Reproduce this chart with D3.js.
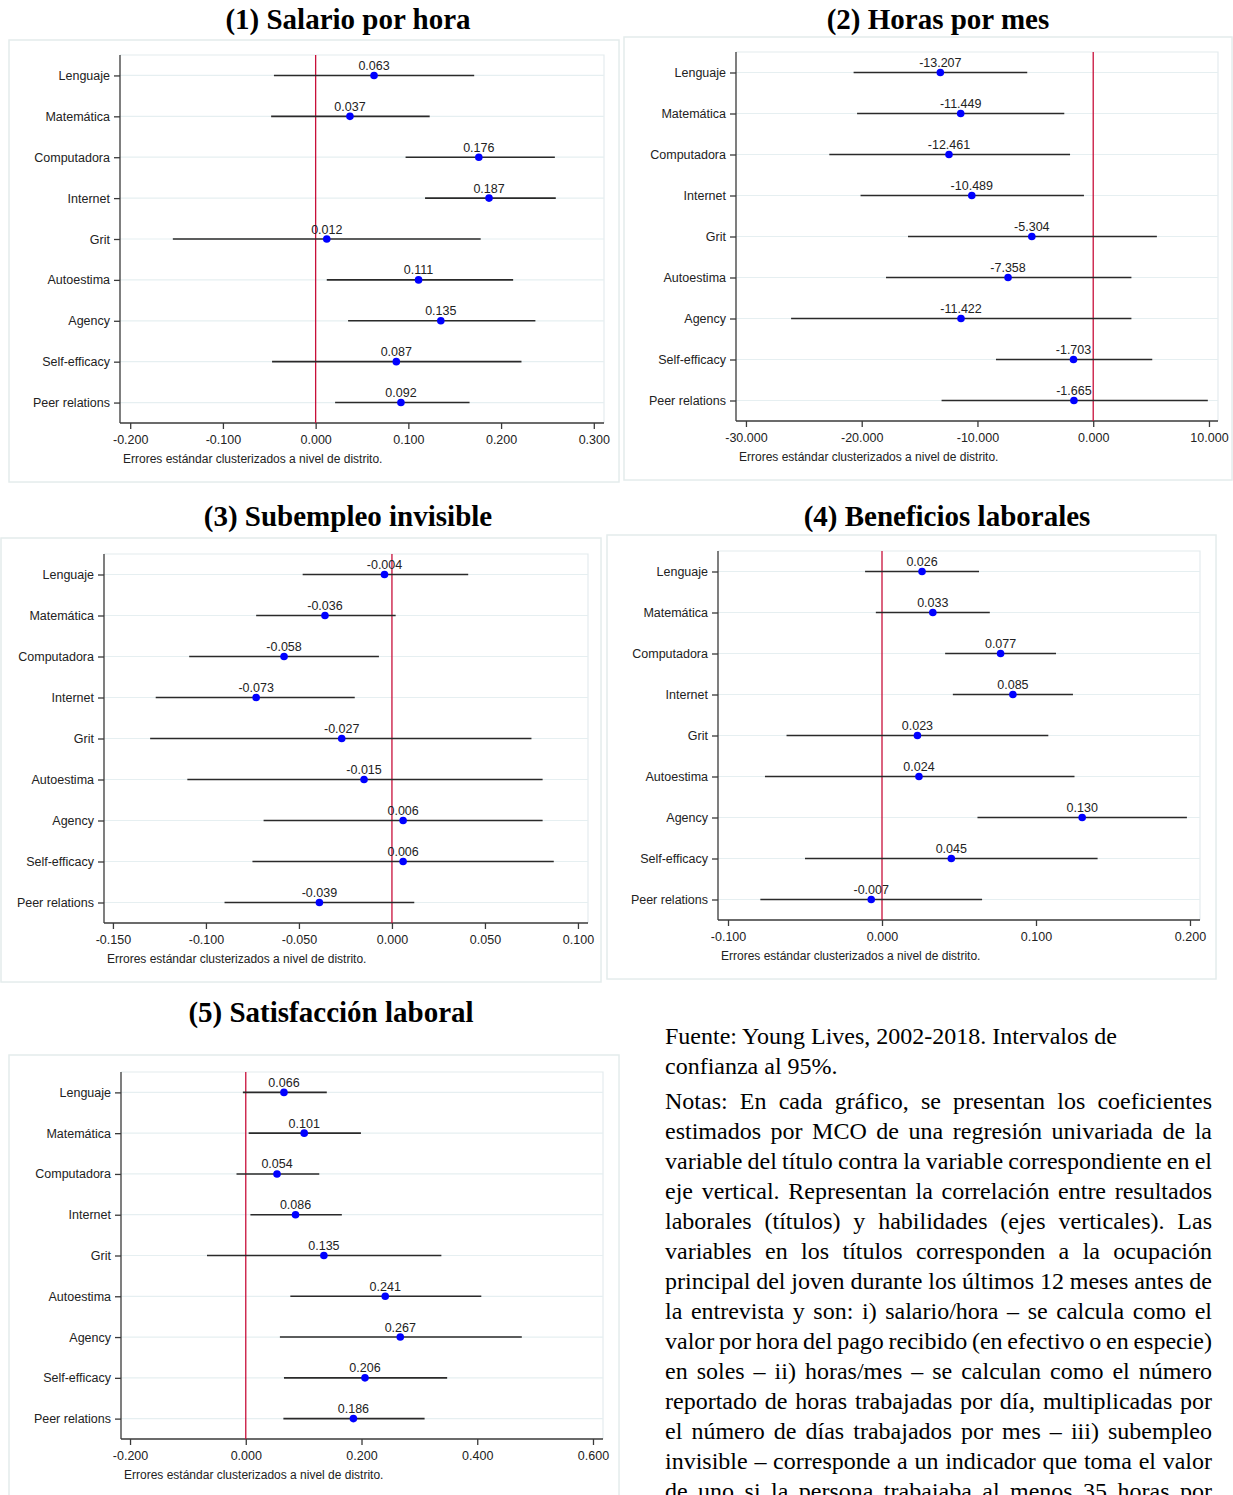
<!DOCTYPE html>
<html>
<head>
<meta charset="utf-8">
<script src="https://cdn.jsdelivr.net/npm/d3@7"></script>
<style>
    body { margin: 0; background: #fff; }
    #wrap { position: relative; width: 1233px; height: 1495px; overflow: hidden; }
    #wrap svg { position: absolute; left: 0; top: 0; }
    .nota {
        position: absolute;
        left: 665px;
        width: 547px;
        height: 30px;
        font-family: "Liberation Serif", "Times New Roman", serif;
        font-size: 24px;
        line-height: 30px;
        color: #000;
        white-space: nowrap;
    }
    .nota.just { text-align: justify; text-align-last: justify; }
    #measure {
        position: absolute; visibility: hidden; white-space: nowrap;
        font-family: "Liberation Serif", "Times New Roman", serif; font-size: 24px;
    }
</style>
</head>
<body>
<div id="wrap"></div>
<span id="measure"></span>
<script>
//*************************1. Data

const skills = ["Lenguaje", "Matemática", "Computadora", "Internet", "Grit", "Autoestima", "Agency", "Self-efficacy", "Peer relations"]

const panelTitles = ["(1) Salario por hora", "(2) Horas por mes", "(3) Subempleo invisible", "(4) Beneficios laborales", "(5) Satisfacción laboral"]

// (1) salario por hora
const coefSalario = [0.063, 0.037, 0.176, 0.187, 0.012, 0.111, 0.135, 0.087, 0.092]
const lowSalario = [-0.045, -0.048, 0.097, 0.118, -0.154, 0.012, 0.035, -0.047, 0.021]
const highSalario = [0.171, 0.123, 0.258, 0.259, 0.178, 0.213, 0.237, 0.222, 0.166]
const ticksSalario = [-0.2, -0.1, 0, 0.1, 0.2, 0.3]

// (2) horas por mes
const coefHoras = [-13.207, -11.449, -12.461, -10.489, -5.304, -7.358, -11.422, -1.703, -1.665]
const lowHoras = [-20.7, -20.4, -22.8, -20.1, -16.0, -17.9, -26.1, -8.4, -13.1]
const highHoras = [-5.7, -2.5, -2.0, -0.8, 5.5, 3.3, 3.3, 5.1, 9.9]
const ticksHoras = [-30, -20, -10, 0, 10]

// (3) subempleo invisible
const coefSubempleo = [-0.004, -0.036, -0.058, -0.073, -0.027, -0.015, 0.006, 0.006, -0.039]
const lowSubempleo = [-0.048, -0.073, -0.109, -0.127, -0.130, -0.110, -0.069, -0.075, -0.090]
const highSubempleo = [0.041, 0.002, -0.007, -0.020, 0.075, 0.081, 0.081, 0.087, 0.012]
const ticksSubempleo = [-0.15, -0.1, -0.05, 0, 0.05, 0.1]

// (4) beneficios laborales
const coefBeneficios = [0.026, 0.033, 0.077, 0.085, 0.023, 0.024, 0.130, 0.045, -0.007]
const lowBeneficios = [-0.011, -0.004, 0.041, 0.046, -0.062, -0.076, 0.062, -0.050, -0.079]
const highBeneficios = [0.063, 0.070, 0.113, 0.124, 0.108, 0.125, 0.198, 0.140, 0.065]
const ticksBeneficios = [-0.1, 0, 0.1, 0.2]

// (5) satisfaccion laboral
const coefSatisfaccion = [0.066, 0.101, 0.054, 0.086, 0.135, 0.241, 0.267, 0.206, 0.186]
const lowSatisfaccion = [-0.005, 0.005, -0.016, 0.008, -0.067, 0.077, 0.059, 0.066, 0.065]
const highSatisfaccion = [0.140, 0.199, 0.127, 0.166, 0.338, 0.407, 0.477, 0.348, 0.309]
const ticksSatisfaccion = [-0.2, 0, 0.2, 0.4, 0.6]

const noteAxis = "Errores estándar clusterizados a nivel de distrito."

const fuenteLines = [
    "Fuente: Young Lives, 2002-2018. Intervalos de",
    "confianza al 95%."
]
const notasLines = [
    "Notas: En cada gráfico, se presentan los coeficientes",
    "estimados por MCO de una regresión univariada de la",
    "variable del título contra la variable correspondiente en el",
    "eje vertical. Representan la correlación entre resultados",
    "laborales (títulos) y habilidades (ejes verticales). Las",
    "variables en los títulos corresponden a la ocupación",
    "principal del joven durante los últimos 12 meses antes de",
    "la entrevista y son: i) salario/hora – se calcula como el",
    "valor por hora del pago recibido (en efectivo o en especie)",
    "en soles – ii) horas/mes – se calculan como el número",
    "reportado de horas trabajadas por día, multiplicadas por",
    "el número de días trabajados por mes – iii) subempleo",
    "invisible – corresponde a un indicador que toma el valor",
    "de uno si la persona trabajaba al menos 35 horas por"
]

//*************************2. Layout of each panel

const panels = [
    { coef: coefSalario, low: lowSalario, high: highSalario, ticks: ticksSalario,
      title: [348, 29], box: [9, 40, 610, 442], plot: [120, 604, 55, 423], domain: [-0.211, 0.311] },
    { coef: coefHoras, low: lowHoras, high: highHoras, ticks: ticksHoras,
      title: [938, 29], box: [624, 37, 608, 443], plot: [736, 1218, 52, 421], domain: [-30.86, 10.78] },
    { coef: coefSubempleo, low: lowSubempleo, high: highSubempleo, ticks: ticksSubempleo,
      title: [348, 526], box: [1, 538, 600, 444], plot: [104, 588, 554, 923], domain: [-0.1548, 0.1054] },
    { coef: coefBeneficios, low: lowBeneficios, high: highBeneficios, ticks: ticksBeneficios,
      title: [947, 526], box: [607, 535, 609, 444], plot: [718, 1200, 551, 920], domain: [-0.1065, 0.2065] },
    { coef: coefSatisfaccion, low: lowSatisfaccion, high: highSatisfaccion, ticks: ticksSatisfaccion,
      title: [331, 1022], box: [9, 1055, 610, 470], plot: [121, 603, 1072, 1439], domain: [-0.2156, 0.6173] }
]

const locale = d3.formatLocale({ decimal: ".", thousands: ",", grouping: [3], currency: ["", ""], minus: "-" })
const fmt = locale.format(".3f")
const sansFont = "'Liberation Sans', Arial, sans-serif"
const serifFont = "'Liberation Serif', 'Times New Roman', serif"

//*************************3. Draw

const wrap = d3.select("#wrap")
const svg = wrap.append("svg")
    .attr("width", 1233)
    .attr("height", 1495)

panels.forEach((p, i) => {
    const [left, right, top, bottom] = p.plot

    const x = d3.scaleLinear()
        .domain(p.domain)
        .range([left, right])

    const y = d3.scalePoint()
        .domain(skills)
        .range([top, bottom])
        .padding(0.5)

    const g = svg.append("g")

    // title
    g.append("text")
        .attr("x", p.title[0])
        .attr("y", p.title[1])
        .attr("text-anchor", "middle")
        .attr("font-family", serifFont)
        .attr("font-weight", "bold")
        .attr("font-size", 29)
        .text(panelTitles[i])

    // outer frame
    g.append("rect")
        .attr("x", p.box[0])
        .attr("y", p.box[1])
        .attr("width", p.box[2])
        .attr("height", p.box[3])
        .attr("fill", "none")
        .attr("stroke", "#e4ecec")
        .attr("stroke-width", 1.5)

    // plot region frame (top & right)
    g.append("path")
        .attr("d", `M${left},${top}H${right}V${bottom}`)
        .attr("fill", "none")
        .attr("stroke", "#e4ecee")
        .attr("stroke-width", 1.2)

    // gridlines
    g.append("g")
        .selectAll("line")
        .data(skills)
        .join("line")
        .attr("x1", left)
        .attr("x2", right)
        .attr("y1", d => y(d))
        .attr("y2", d => y(d))
        .attr("stroke", "#e6eff1")
        .attr("stroke-width", 1.2)

    // axes
    const xAxis = g.append("g")
        .attr("transform", `translate(0,${bottom})`)
        .call(d3.axisBottom(x).tickValues(p.ticks).tickFormat(fmt).tickSize(6).tickPadding(6).tickSizeOuter(0))
    const yAxis = g.append("g")
        .attr("transform", `translate(${left},0)`)
        .call(d3.axisLeft(y).tickSize(6).tickPadding(4).tickSizeOuter(0))

    ;[xAxis, yAxis].forEach(ax => {
        ax.selectAll(".domain, .tick line").attr("stroke", "#3a3a3a").attr("stroke-width", 1.3)
        ax.selectAll("text")
            .attr("font-family", sansFont)
            .attr("font-size", 12.5)
            .attr("fill", "#222")
    })
    // axis lines span the whole plot region
    xAxis.select(".domain").attr("d", `M${left},0H${right}`)
    yAxis.select(".domain").attr("d", `M0,${top}V${bottom}`)

    // axis note
    g.append("text")
        .attr("x", left + 3)
        .attr("y", bottom + 40)
        .attr("font-family", sansFont)
        .attr("font-size", 12)
        .attr("fill", "#222")
        .text(noteAxis)

    // zero line
    g.append("line")
        .attr("x1", x(0))
        .attr("x2", x(0))
        .attr("y1", top)
        .attr("y2", bottom)
        .attr("stroke", "#c8103a")
        .attr("stroke-width", 1.3)

    // confidence intervals
    g.append("g")
        .selectAll("line")
        .data(skills)
        .join("line")
        .attr("x1", (d, j) => x(p.low[j]))
        .attr("x2", (d, j) => x(p.high[j]))
        .attr("y1", d => y(d))
        .attr("y2", d => y(d))
        .attr("stroke", "#2a2a2a")
        .attr("stroke-width", 1.6)

    // points
    g.append("g")
        .selectAll("circle")
        .data(skills)
        .join("circle")
        .attr("cx", (d, j) => x(p.coef[j]))
        .attr("cy", d => y(d))
        .attr("r", 3.8)
        .attr("fill", "#0000ff")

    // value labels
    g.append("g")
        .selectAll("text")
        .data(skills)
        .join("text")
        .attr("x", (d, j) => x(p.coef[j]))
        .attr("y", d => y(d) - 5.5)
        .attr("text-anchor", "middle")
        .attr("font-family", sansFont)
        .attr("font-size", 12.5)
        .attr("fill", "#222")
        .text((d, j) => fmt(p.coef[j]))
})

//*************************4. Notes

wrap.selectAll("div.fuente")
    .data(fuenteLines)
    .join("div")
    .attr("class", "nota fuente")
    .style("top", (d, i) => `${1021 + i * 30}px`)
    .text(d => d)

const measure = document.getElementById("measure")
const lineWidth = 547

wrap.selectAll("div.notas")
    .data(notasLines)
    .join("div")
    .attr("class", "nota notas just")
    .style("top", (d, i) => `${1086 + i * 30}px`)
    .text(d => d)
    .each(function (d) {
        // squeeze the word gaps when a line is wider than the column
        measure.textContent = d
        const w = measure.getBoundingClientRect().width
        const gaps = d.split(" ").length - 1
        if (w > lineWidth && gaps > 0) {
            d3.select(this).style("word-spacing", `${(lineWidth - w) / gaps - 0.2}px`)
        }
    })
</script>
</body>
</html>
